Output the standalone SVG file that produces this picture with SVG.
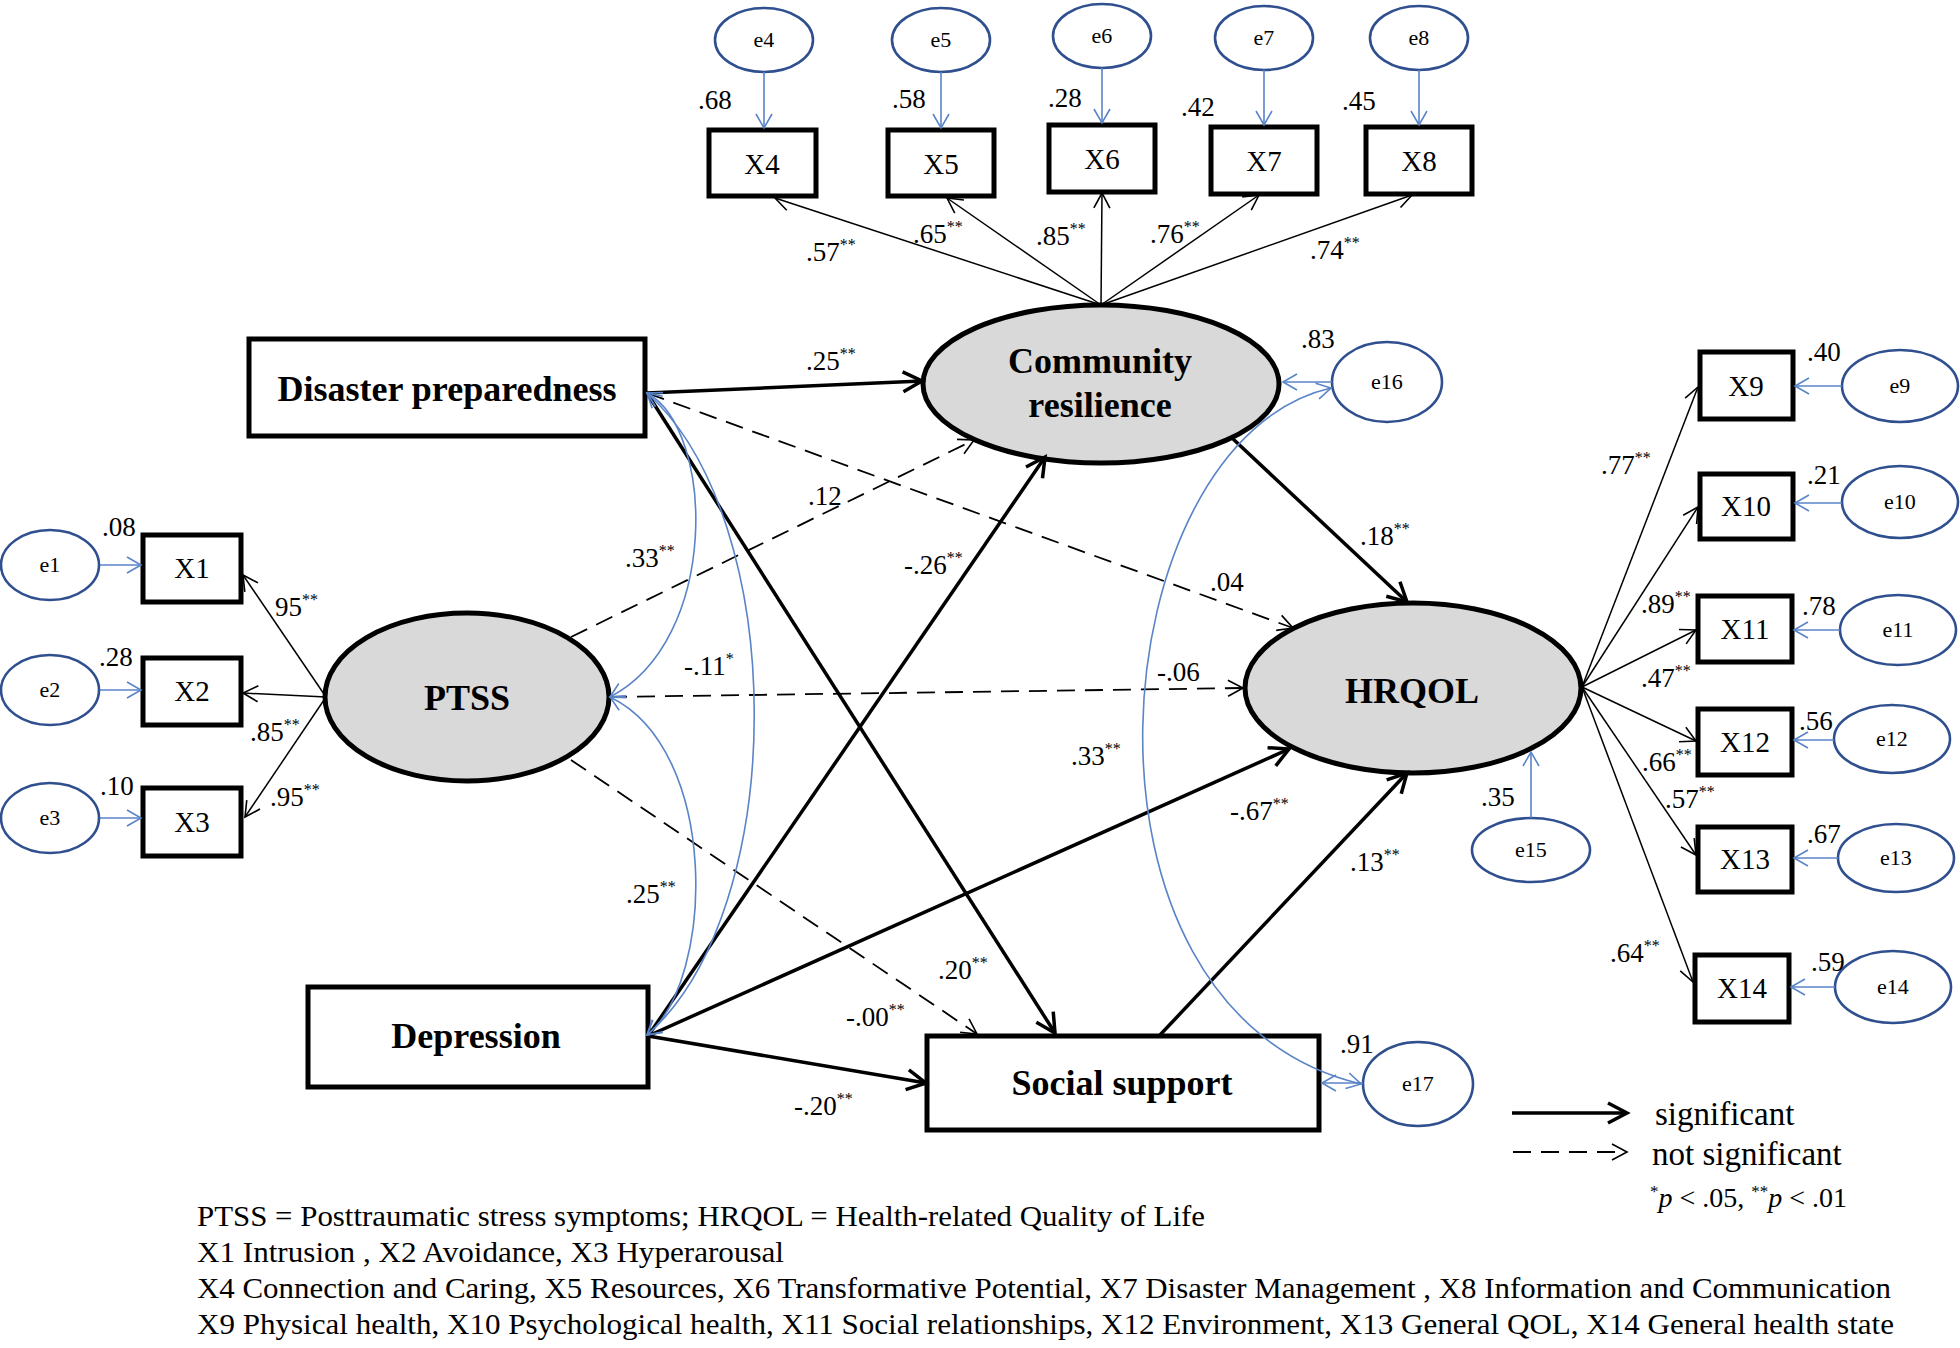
<svg xmlns="http://www.w3.org/2000/svg" width="1960" height="1348" viewBox="0 0 1960 1348">
<style>
text{font-family:"Liberation Serif","Times New Roman",serif;fill:#000}
.box{fill:#fff;stroke:#000;stroke-width:5}
.lat{fill:#d9d9d9;stroke:#000;stroke-width:5}
.err{fill:#fff;stroke:#2f4f8f;stroke-width:2.6}
.thick{stroke:#000;stroke-width:3.5;fill:none;marker-end:url(#ak)}
.thin{stroke:#000;stroke-width:1.5;fill:none;marker-end:url(#an)}
.dash{stroke:#000;stroke-width:1.8;stroke-dasharray:18 10;fill:none;marker-end:url(#an)}
.blue{stroke:#5a84c8;stroke-width:1.6;fill:none;marker-end:url(#ab)}
.cov{stroke:#5a84c8;stroke-width:1.6;fill:none;marker-start:url(#ab2);marker-end:url(#ab2)}
.nm{font-weight:bold;font-size:36px;text-anchor:middle}
.xl{font-size:29px;text-anchor:middle}
.el{font-size:22px;text-anchor:middle}
.lb{font-size:27px}
.sup{font-size:16px}
.leg{font-size:33px}
.foot{font-size:29px}
</style>
<defs>
<marker id="ak" markerUnits="userSpaceOnUse" viewBox="-22 -14 26 28" markerWidth="26" markerHeight="28" refX="0" refY="0" orient="auto" overflow="visible">
<path d="M-19,-10 L0,0 L-19,10" fill="none" stroke="#000" stroke-width="3.5" stroke-dasharray="none"/>
</marker>
<marker id="an" markerUnits="userSpaceOnUse" viewBox="-20 -12 24 24" markerWidth="24" markerHeight="24" refX="0" refY="0" orient="auto" overflow="visible">
<path d="M-15,-8 L0,0 L-15,8" fill="none" stroke="#000" stroke-width="1.6" stroke-dasharray="none"/>
</marker>
<marker id="ab" markerUnits="userSpaceOnUse" viewBox="-20 -12 24 24" markerWidth="24" markerHeight="24" refX="0" refY="0" orient="auto" overflow="visible">
<path d="M-14,-8 L0,0 L-14,8" fill="none" stroke="#5a84c8" stroke-width="1.6"/>
</marker>
<marker id="ab2" markerUnits="userSpaceOnUse" viewBox="-20 -12 24 24" markerWidth="24" markerHeight="24" refX="0" refY="0" orient="auto-start-reverse" overflow="visible">
<path d="M-14,-8 L0,0 L-14,8" fill="none" stroke="#5a84c8" stroke-width="1.6"/>
</marker>
</defs>
<rect width="1960" height="1348" fill="#fff"/>

<g id="n-disaster"><rect class="box" x="249" y="339" width="396" height="97"/><text class="nm" x="447" y="401">Disaster preparedness</text></g>
<g id="n-depression"><rect class="box" x="308" y="987" width="340" height="100"/><text class="nm" x="476" y="1048">Depression</text></g>
<g id="n-social"><rect class="box" x="927" y="1036" width="392" height="94"/><text class="nm" x="1122" y="1095">Social support</text></g>
<g id="n-ptss"><ellipse class="lat" cx="467" cy="697" rx="142" ry="84"/><text class="nm" x="467" y="710">PTSS</text></g>
<g id="n-cr"><ellipse class="lat" cx="1101" cy="384" rx="178" ry="79"/><text class="nm" x="1100" y="373">Community</text><text class="nm" x="1100" y="417">resilience</text></g>
<g id="n-hrqol"><ellipse class="lat" cx="1413" cy="688" rx="168" ry="85"/><text class="nm" x="1412" y="703">HRQOL</text></g>

<g id="n-x1"><rect class="box" x="143" y="535" width="98" height="67"/><text class="xl" x="192" y="578">X1</text></g>
<g id="n-x2"><rect class="box" x="143" y="658" width="98" height="67"/><text class="xl" x="192" y="701">X2</text></g>
<g id="n-x3"><rect class="box" x="143" y="788" width="98" height="68"/><text class="xl" x="192" y="832">X3</text></g>
<g id="n-x4"><rect class="box" x="709" y="130" width="107" height="66"/><text class="xl" x="762" y="174">X4</text></g>
<g id="n-x5"><rect class="box" x="888" y="130" width="106" height="66"/><text class="xl" x="941" y="174">X5</text></g>
<g id="n-x6"><rect class="box" x="1049" y="125" width="106" height="67"/><text class="xl" x="1102" y="169">X6</text></g>
<g id="n-x7"><rect class="box" x="1211" y="127" width="106" height="67"/><text class="xl" x="1264" y="171">X7</text></g>
<g id="n-x8"><rect class="box" x="1366" y="127" width="106" height="67"/><text class="xl" x="1419" y="171">X8</text></g>
<g id="n-x9"><rect class="box" x="1700" y="352" width="93" height="67"/><text class="xl" x="1746" y="396">X9</text></g>
<g id="n-x10"><rect class="box" x="1700" y="474" width="93" height="65"/><text class="xl" x="1746" y="516">X10</text></g>
<g id="n-x11"><rect class="box" x="1698" y="596" width="94" height="66"/><text class="xl" x="1745" y="639">X11</text></g>
<g id="n-x12"><rect class="box" x="1698" y="709" width="94" height="66"/><text class="xl" x="1745" y="752">X12</text></g>
<g id="n-x13"><rect class="box" x="1698" y="827" width="94" height="65"/><text class="xl" x="1745" y="869">X13</text></g>
<g id="n-x14"><rect class="box" x="1695" y="955" width="94" height="67"/><text class="xl" x="1742" y="998">X14</text></g>

<g id="n-e1"><ellipse class="err" cx="50" cy="565" rx="49" ry="35"/><text class="el" x="50" y="572">e1</text></g>
<g id="n-e2"><ellipse class="err" cx="50" cy="690" rx="49" ry="35"/><text class="el" x="50" y="697">e2</text></g>
<g id="n-e3"><ellipse class="err" cx="50" cy="818" rx="49" ry="35"/><text class="el" x="50" y="825">e3</text></g>
<g id="n-e4"><ellipse class="err" cx="764" cy="40" rx="49" ry="32"/><text class="el" x="764" y="47">e4</text></g>
<g id="n-e5"><ellipse class="err" cx="941" cy="40" rx="49" ry="32"/><text class="el" x="941" y="47">e5</text></g>
<g id="n-e6"><ellipse class="err" cx="1102" cy="36" rx="49" ry="32"/><text class="el" x="1102" y="43">e6</text></g>
<g id="n-e7"><ellipse class="err" cx="1264" cy="38" rx="49" ry="32"/><text class="el" x="1264" y="45">e7</text></g>
<g id="n-e8"><ellipse class="err" cx="1419" cy="38" rx="49" ry="32"/><text class="el" x="1419" y="45">e8</text></g>
<g id="n-e9"><ellipse class="err" cx="1900" cy="386" rx="58" ry="36"/><text class="el" x="1900" y="393">e9</text></g>
<g id="n-e10"><ellipse class="err" cx="1900" cy="502" rx="58" ry="36"/><text class="el" x="1900" y="509">e10</text></g>
<g id="n-e11"><ellipse class="err" cx="1898" cy="630" rx="58" ry="35"/><text class="el" x="1898" y="637">e11</text></g>
<g id="n-e12"><ellipse class="err" cx="1892" cy="739" rx="58" ry="34"/><text class="el" x="1892" y="746">e12</text></g>
<g id="n-e13"><ellipse class="err" cx="1896" cy="858" rx="58" ry="34"/><text class="el" x="1896" y="865">e13</text></g>
<g id="n-e14"><ellipse class="err" cx="1893" cy="987" rx="58" ry="36"/><text class="el" x="1893" y="994">e14</text></g>
<g id="n-e15"><ellipse class="err" cx="1531" cy="850" rx="59" ry="32"/><text class="el" x="1531" y="857">e15</text></g>
<g id="n-e16"><ellipse class="err" cx="1387" cy="382" rx="55" ry="40"/><text class="el" x="1387" y="389">e16</text></g>
<g id="n-e17"><ellipse class="err" cx="1418" cy="1084" rx="55" ry="42"/><text class="el" x="1418" y="1091">e17</text></g>

<g id="connectors">
<line class="thick" x1="647" y1="393" x2="922" y2="381"/>
<line class="thick" x1="647" y1="393" x2="1055" y2="1033"/>
<line class="dash" x1="647" y1="393" x2="1293" y2="628"/>
<line class="dash" x1="571" y1="637" x2="974" y2="440"/>
<line class="dash" x1="609" y1="697" x2="1243" y2="688"/>
<line class="dash" x1="571" y1="760" x2="977" y2="1034"/>
<line class="thick" x1="648" y1="1036" x2="1045" y2="457"/>
<line class="thick" x1="648" y1="1036" x2="1289" y2="749"/>
<line class="thick" x1="648" y1="1036" x2="926" y2="1083"/>
<line class="thick" x1="1232" y1="438" x2="1407" y2="602"/>
<line class="thick" x1="1160" y1="1035" x2="1407" y2="773"/>
<line class="thin" x1="1101" y1="305" x2="775" y2="198"/>
<line class="thin" x1="1101" y1="305" x2="947" y2="198"/>
<line class="thin" x1="1101" y1="305" x2="1102" y2="193"/>
<line class="thin" x1="1101" y1="305" x2="1259" y2="195"/>
<line class="thin" x1="1101" y1="305" x2="1412" y2="195"/>
<line class="thin" x1="326" y1="697" x2="243" y2="575"/>
<line class="thin" x1="326" y1="697" x2="243" y2="693"/>
<line class="thin" x1="326" y1="697" x2="245" y2="817"/>
<line class="thin" x1="1582" y1="687" x2="1698" y2="387"/>
<line class="thin" x1="1582" y1="687" x2="1698" y2="507"/>
<line class="thin" x1="1582" y1="687" x2="1696" y2="630"/>
<line class="thin" x1="1582" y1="687" x2="1696" y2="741"/>
<line class="thin" x1="1582" y1="687" x2="1696" y2="855"/>
<line class="thin" x1="1582" y1="687" x2="1693" y2="982"/>
<line class="blue" x1="100" y1="565" x2="141" y2="565"/>
<line class="blue" x1="100" y1="690" x2="141" y2="690"/>
<line class="blue" x1="100" y1="818" x2="141" y2="818"/>
<line class="blue" x1="764" y1="72" x2="764" y2="128"/>
<line class="blue" x1="941" y1="72" x2="941" y2="128"/>
<line class="blue" x1="1102" y1="68" x2="1102" y2="123"/>
<line class="blue" x1="1264" y1="70" x2="1264" y2="125"/>
<line class="blue" x1="1419" y1="70" x2="1419" y2="125"/>
<line class="blue" x1="1842" y1="386" x2="1795" y2="386"/>
<line class="blue" x1="1842" y1="503" x2="1795" y2="503"/>
<line class="blue" x1="1840" y1="630" x2="1794" y2="630"/>
<line class="blue" x1="1834" y1="740" x2="1794" y2="740"/>
<line class="blue" x1="1838" y1="858" x2="1794" y2="858"/>
<line class="blue" x1="1835" y1="987" x2="1791" y2="987"/>
<line class="blue" x1="1531" y1="818" x2="1531" y2="752"/>
<line class="blue" x1="1332" y1="382" x2="1283" y2="382"/>
<line class="blue" x1="1363" y1="1083" x2="1322" y2="1083"/>
<path class="cov" d="M647,393 C715,430 720,640 610,697"/>
<path class="cov" d="M647,393 C790,520 790,910 647,1035"/>
<path class="cov" d="M610,697 C720,750 715,980 647,1035"/>
<path class="cov" d="M1331,388 C1100,440 1050,1010 1361,1084"/>
<line class="thick" x1="1512" y1="1113" x2="1627" y2="1113"/>
<line class="dash" x1="1513" y1="1152" x2="1627" y2="1152"/>
</g>

<g id="labels">
<text class="lb" x="698" y="109">.68</text>
<text class="lb" x="892" y="108">.58</text>
<text class="lb" x="1048" y="107">.28</text>
<text class="lb" x="1181" y="116">.42</text>
<text class="lb" x="1342" y="110">.45</text>
<text class="lb" x="806" y="261">.57<tspan class="sup" dy="-11">**</tspan></text>
<text class="lb" x="913" y="243">.65<tspan class="sup" dy="-11">**</tspan></text>
<text class="lb" x="1036" y="245">.85<tspan class="sup" dy="-11">**</tspan></text>
<text class="lb" x="1150" y="243">.76<tspan class="sup" dy="-11">**</tspan></text>
<text class="lb" x="1310" y="259">.74<tspan class="sup" dy="-11">**</tspan></text>
<text class="lb" x="102" y="536">.08</text>
<text class="lb" x="99" y="666">.28</text>
<text class="lb" x="100" y="795">.10</text>
<text class="lb" x="275" y="616">95<tspan class="sup" dy="-11">**</tspan></text>
<text class="lb" x="250" y="741">.85<tspan class="sup" dy="-11">**</tspan></text>
<text class="lb" x="270" y="806">.95<tspan class="sup" dy="-11">**</tspan></text>
<text class="lb" x="806" y="370">.25<tspan class="sup" dy="-11">**</tspan></text>
<text class="lb" x="808" y="505">.12</text>
<text class="lb" x="625" y="567">.33<tspan class="sup" dy="-11">**</tspan></text>
<text class="lb" x="684" y="675">-.11<tspan class="sup" dy="-11">*</tspan></text>
<text class="lb" x="626" y="903">.25<tspan class="sup" dy="-11">**</tspan></text>
<text class="lb" x="904" y="574">-.26<tspan class="sup" dy="-11">**</tspan></text>
<text class="lb" x="1210" y="591">.04</text>
<text class="lb" x="1157" y="681">-.06</text>
<text class="lb" x="1360" y="545">.18<tspan class="sup" dy="-11">**</tspan></text>
<text class="lb" x="1071" y="765">.33<tspan class="sup" dy="-11">**</tspan></text>
<text class="lb" x="1230" y="820">-.67<tspan class="sup" dy="-11">**</tspan></text>
<text class="lb" x="1350" y="871">.13<tspan class="sup" dy="-11">**</tspan></text>
<text class="lb" x="938" y="979">.20<tspan class="sup" dy="-11">**</tspan></text>
<text class="lb" x="846" y="1026">-.00<tspan class="sup" dy="-11">**</tspan></text>
<text class="lb" x="794" y="1115">-.20<tspan class="sup" dy="-11">**</tspan></text>
<text class="lb" x="1301" y="348">.83</text>
<text class="lb" x="1340" y="1053">.91</text>
<text class="lb" x="1481" y="806">.35</text>
<text class="lb" x="1807" y="361">.40</text>
<text class="lb" x="1807" y="484">.21</text>
<text class="lb" x="1802" y="615">.78</text>
<text class="lb" x="1799" y="730">.56</text>
<text class="lb" x="1807" y="843">.67</text>
<text class="lb" x="1811" y="971">.59</text>
<text class="lb" x="1601" y="474">.77<tspan class="sup" dy="-11">**</tspan></text>
<text class="lb" x="1641" y="613">.89<tspan class="sup" dy="-11">**</tspan></text>
<text class="lb" x="1641" y="687">.47<tspan class="sup" dy="-11">**</tspan></text>
<text class="lb" x="1642" y="771">.66<tspan class="sup" dy="-11">**</tspan></text>
<text class="lb" x="1665" y="808">.57<tspan class="sup" dy="-11">**</tspan></text>
<text class="lb" x="1610" y="962">.64<tspan class="sup" dy="-11">**</tspan></text>
</g>

<g id="legend">
<text class="leg" x="1655" y="1125">significant</text>
<text class="leg" x="1652" y="1165">not significant</text>
<text x="1650" y="1207" font-size="28"><tspan font-size="17" dy="-10">*</tspan><tspan dy="10" font-style="italic">p</tspan> &lt; .05, <tspan font-size="17" dy="-10">**</tspan><tspan dy="10" font-style="italic">p</tspan> &lt; .01</text>
</g>

<g id="footnote">
<text class="foot" x="197" y="1226" textLength="1008" lengthAdjust="spacingAndGlyphs">PTSS = Posttraumatic stress symptoms; HRQOL = Health-related Quality of Life</text>
<text class="foot" x="197" y="1262" textLength="587" lengthAdjust="spacingAndGlyphs">X1 Intrusion , X2 Avoidance, X3 Hyperarousal</text>
<text class="foot" x="197" y="1298" textLength="1694" lengthAdjust="spacingAndGlyphs">X4 Connection and Caring, X5 Resources, X6 Transformative Potential, X7 Disaster Management , X8 Information and Communication</text>
<text class="foot" x="197" y="1334" textLength="1697" lengthAdjust="spacingAndGlyphs">X9 Physical health, X10 Psychological health, X11 Social relationships, X12  Environment, X13 General QOL, X14 General health state</text>
</g>
</svg>
